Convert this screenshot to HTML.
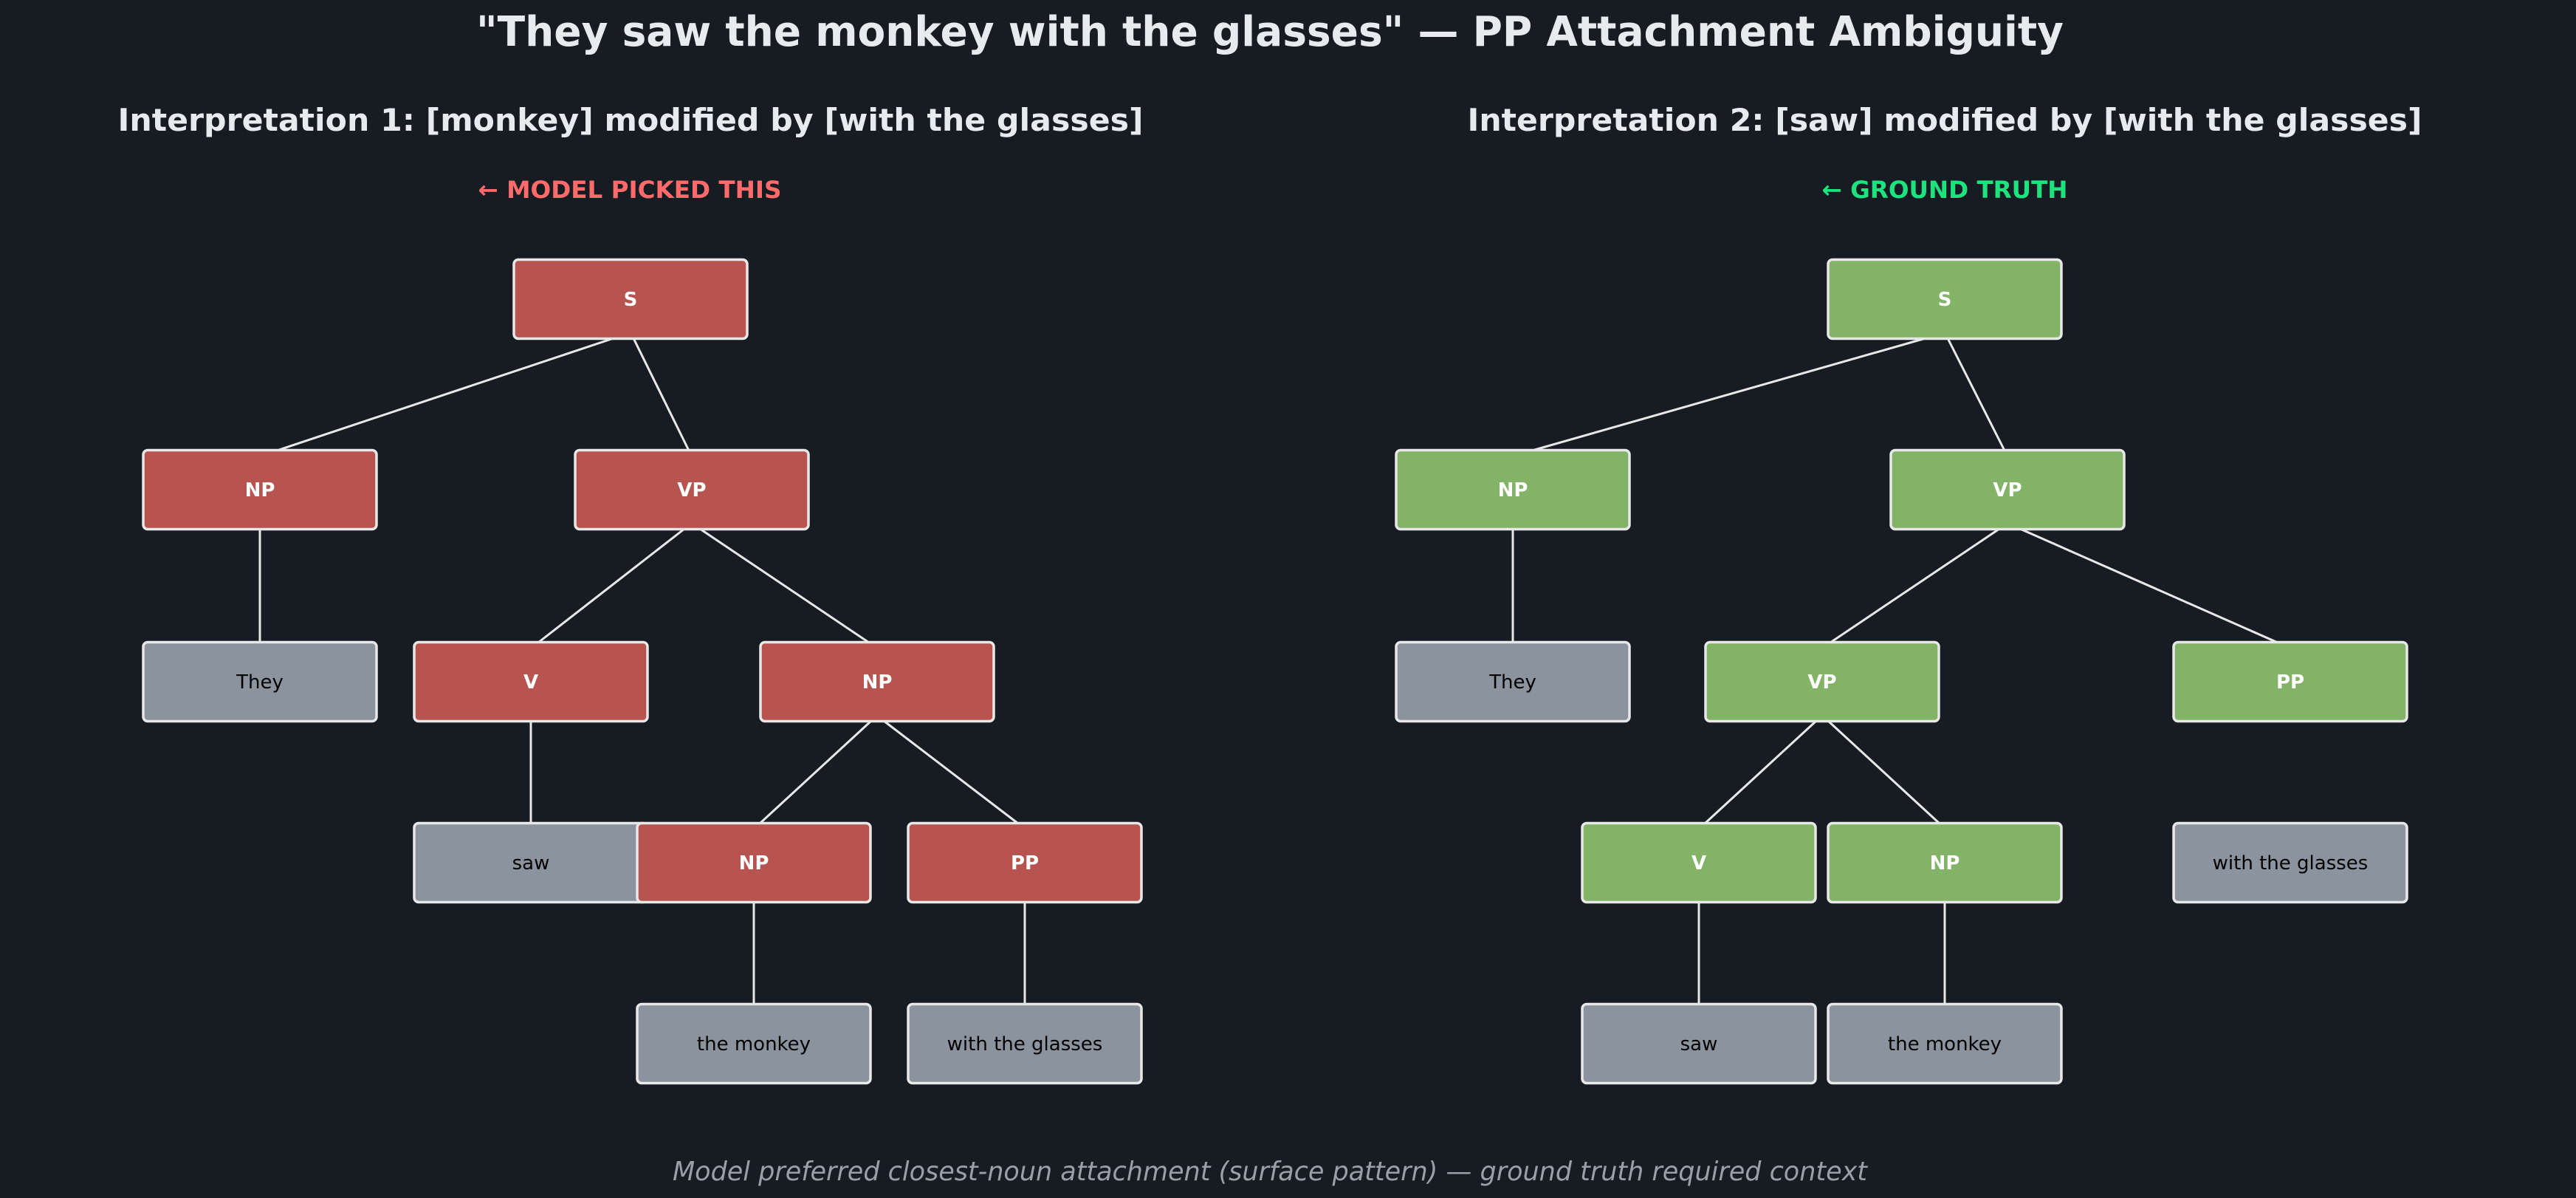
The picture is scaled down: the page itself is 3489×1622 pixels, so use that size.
<!DOCTYPE html>
<html><head><meta charset="utf-8"><style>
html,body{margin:0;padding:0;background:#171b22;}
svg{display:block;}
.t{font-family:"DejaVu Sans","Liberation Sans",sans-serif;}
</style></head><body>
<svg width="3489" height="1622" viewBox="0 0 3489 1622" xmlns="http://www.w3.org/2000/svg" class="t">
<rect width="3489" height="1622" fill="#171b22"/>
<text x="1720" y="62" text-anchor="middle" font-size="56" font-weight="bold" fill="#e8eaee" textLength="2150" lengthAdjust="spacingAndGlyphs">"They saw the monkey with the glasses" — PP Attachment Ambiguity</text>
<text x="854" y="177" text-anchor="middle" font-size="42" font-weight="bold" fill="#e8eaee" textLength="1389" lengthAdjust="spacingAndGlyphs">Interpretation 1: [monkey] modified by [with the glasses]</text>
<text x="2634" y="177" text-anchor="middle" font-size="42" font-weight="bold" fill="#e8eaee" textLength="1293" lengthAdjust="spacingAndGlyphs">Interpretation 2: [saw] modified by [with the glasses]</text>
<text x="853" y="268" text-anchor="middle" font-size="32" font-weight="bold" fill="#ff6b6b" textLength="411" lengthAdjust="spacingAndGlyphs">← MODEL PICKED THIS</text>
<text x="2634" y="268" text-anchor="middle" font-size="32" font-weight="bold" fill="#1de37f" textLength="333" lengthAdjust="spacingAndGlyphs">← GROUND TRUTH</text>
<text x="1720" y="1598" text-anchor="middle" font-size="36" font-style="italic" fill="#9aa0a8" textLength="1618" lengthAdjust="spacingAndGlyphs">Model preferred closest-noun attachment (surface pattern) — ground truth required context</text>

<g stroke="#e8e8e8" stroke-width="3" fill="none">
<line x1="831" y1="458" x2="375" y2="610"/>
<line x1="858" y1="458" x2="933" y2="610"/>
<line x1="352" y1="716" x2="352" y2="870"/>
<line x1="927" y1="716" x2="729" y2="870"/>
<line x1="948" y1="716" x2="1177" y2="870"/>
<line x1="719" y1="976" x2="719" y2="1115"/>
<line x1="1180" y1="976" x2="1029" y2="1115"/>
<line x1="1197" y1="976" x2="1379" y2="1115"/>
<line x1="1021" y1="1221" x2="1021" y2="1360"/>
<line x1="1388" y1="1221" x2="1388" y2="1360"/>

<line x1="2608" y1="458" x2="2075" y2="610"/>
<line x1="2638" y1="458" x2="2715" y2="610"/>
<line x1="2049" y1="716" x2="2049" y2="870"/>
<line x1="2708" y1="716" x2="2479" y2="870"/>
<line x1="2736" y1="716" x2="3085" y2="870"/>
<line x1="2460" y1="976" x2="2309" y2="1115"/>
<line x1="2476" y1="976" x2="2627" y2="1115"/>
<line x1="2301" y1="1221" x2="2301" y2="1360"/>
<line x1="2634" y1="1221" x2="2634" y2="1360"/>
</g>

<g stroke="#e8e8e8" stroke-width="3.5">
<!-- left -->
<rect x="696" y="351.5" width="316" height="107" rx="6" fill="#b85450"/>
<rect x="194" y="609.5" width="316" height="107" rx="6" fill="#b85450"/>
<rect x="779" y="609.5" width="316" height="107" rx="6" fill="#b85450"/>
<rect x="194" y="869.5" width="316" height="107" rx="6" fill="#8b939e"/>
<rect x="561" y="869.5" width="316" height="107" rx="6" fill="#b85450"/>
<rect x="1030" y="869.5" width="316" height="107" rx="6" fill="#b85450"/>
<rect x="561" y="1114.5" width="316" height="107" rx="6" fill="#8b939e"/>
<rect x="863" y="1114.5" width="316" height="107" rx="6" fill="#b85450"/>
<rect x="1230" y="1114.5" width="316" height="107" rx="6" fill="#b85450"/>
<rect x="863" y="1359.5" width="316" height="107" rx="6" fill="#8b939e"/>
<rect x="1230" y="1359.5" width="316" height="107" rx="6" fill="#8b939e"/>
<!-- right -->
<rect x="2476" y="351.5" width="316" height="107" rx="6" fill="#82b366"/>
<rect x="1891" y="609.5" width="316" height="107" rx="6" fill="#82b366"/>
<rect x="2561" y="609.5" width="316" height="107" rx="6" fill="#82b366"/>
<rect x="1891" y="869.5" width="316" height="107" rx="6" fill="#8b939e"/>
<rect x="2310" y="869.5" width="316" height="107" rx="6" fill="#82b366"/>
<rect x="2944" y="869.5" width="316" height="107" rx="6" fill="#82b366"/>
<rect x="2143" y="1114.5" width="316" height="107" rx="6" fill="#82b366"/>
<rect x="2476" y="1114.5" width="316" height="107" rx="6" fill="#82b366"/>
<rect x="2944" y="1114.5" width="316" height="107" rx="6" fill="#8b939e"/>
<rect x="2143" y="1359.5" width="316" height="107" rx="6" fill="#8b939e"/>
<rect x="2476" y="1359.5" width="316" height="107" rx="6" fill="#8b939e"/>
</g>

<g font-size="26" font-weight="bold" fill="#ffffff" text-anchor="middle">
<text x="854" y="414">S</text>
<text x="352" y="672">NP</text>
<text x="937" y="672">VP</text>
<text x="719" y="932">V</text>
<text x="1188" y="932">NP</text>
<text x="1021" y="1177">NP</text>
<text x="1388" y="1177">PP</text>
<text x="2634" y="414">S</text>
<text x="2049" y="672">NP</text>
<text x="2719" y="672">VP</text>
<text x="2468" y="932">VP</text>
<text x="3102" y="932">PP</text>
<text x="2301" y="1177">V</text>
<text x="2634" y="1177">NP</text>
</g>
<g font-size="26" fill="#000000" text-anchor="middle">
<text x="352" y="932">They</text>
<text x="719" y="1177">saw</text>
<text x="1021" y="1422">the monkey</text>
<text x="1388" y="1422">with the glasses</text>
<text x="2049" y="932">They</text>
<text x="3102" y="1177">with the glasses</text>
<text x="2301" y="1422">saw</text>
<text x="2634" y="1422">the monkey</text>
</g>
</svg>
</body></html>
